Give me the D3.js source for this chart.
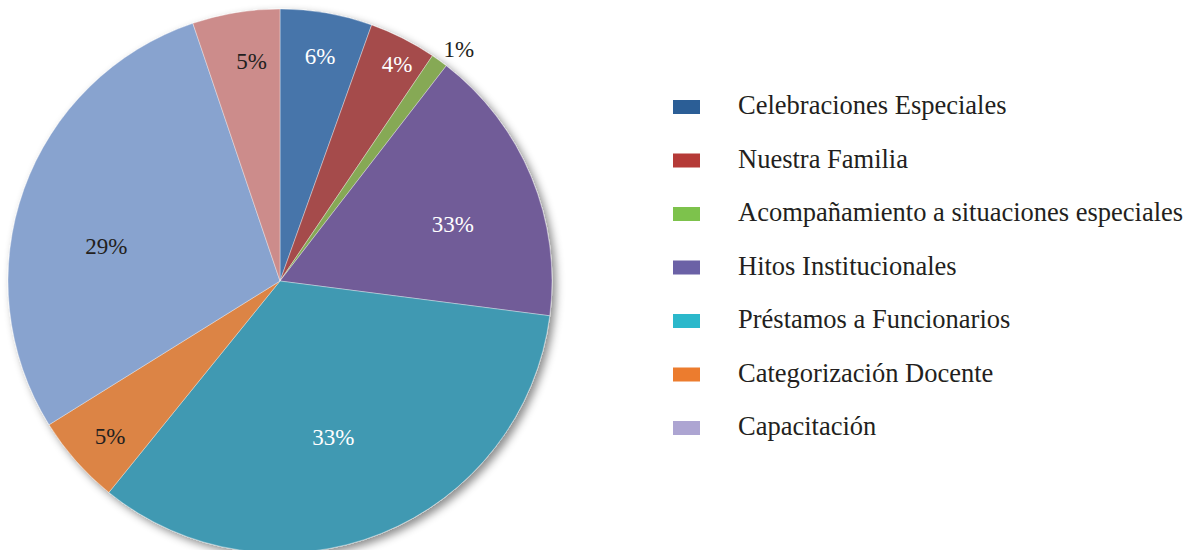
<!DOCTYPE html>
<html>
<head>
<meta charset="utf-8">
<script src="https://cdn.jsdelivr.net/npm/d3@7"></script>
<style>
  html, body { margin: 0; padding: 0; background: #fff; }
  svg { display: block; }
</style>
</head>
<body>
<div id="chart"></div>
<script>
// datos del gráfico
const slices = ["Celebraciones Especiales", "Nuestra Familia", "Acompañamiento a situaciones especiales",
  "Hitos Institucionales", "Préstamos a Funcionarios", "Categorización Docente", "Capacitación", "Otros"];
const values = [5.47, 4.0, 1.0, 16.57, 33.79, 5.31, 28.67, 5.19];
const labels = ["6%", "4%", "1%", "33%", "33%", "5%", "29%", "5%"];
const sliceColors = ["#4674aa", "#a54c4b", "#86a955", "#715b98", "#4199b2", "#dc8444", "#88a3cf", "#cc8c8b"];
const labelColors = ["#fff", "#fff", "#231f20", "#fff", "#fff", "#231f20", "#231f20", "#231f20"];

const legendNames = ["Celebraciones Especiales", "Nuestra Familia", "Acompañamiento a situaciones especiales",
  "Hitos Institucionales", "Préstamos a Funcionarios", "Categorización Docente", "Capacitación"];
const legendColors = ["#2b5e96", "#b53a37", "#7dc24c", "#6b61a6", "#2bb8cb", "#ec7c2e", "#ada5d2"];

// posición de etiquetas: radio y pequeño ajuste de ángulo (grados)
const labelRadius = [228, 246, 293, 182, 165, 230, 177, 222];
const labelNudge = [0.3, 1.5, 1.7, 4.3, 3.0, -0.9, -8.5, 2.0];

const FONT = "Liberation Serif";
const width = 1192, height = 550;
const cx = 280, cy = 281, radius = 272;

const svg = d3.select("#chart").append("svg")
  .attr("width", width)
  .attr("height", height);

const defs = svg.append("defs");
const filter = defs.append("filter").attr("id", "shadow")
  .attr("x", "-10%").attr("y", "-10%").attr("width", "125%").attr("height", "125%");
filter.append("feDropShadow")
  .attr("dx", 4).attr("dy", 4).attr("stdDeviation", 4)
  .attr("flood-color", "#000").attr("flood-opacity", 0.45);

const pie = d3.pie().sort(null).value(d => d);
const arcs = pie(values);
const arc = d3.arc().innerRadius(0).outerRadius(radius);

const g = svg.append("g").attr("transform", `translate(${cx},${cy})`);

g.append("g").attr("filter", "url(#shadow)")
  .selectAll("path")
  .data(arcs)
  .enter()
  .append("path")
  .attr("d", arc)
  .attr("fill", (d, i) => sliceColors[i])
  .attr("stroke", "#fff")
  .attr("stroke-opacity", 0.6)
  .attr("stroke-width", 0.6);

const labelPos = (d, i) => {
  const a = (d.startAngle + d.endAngle) / 2 + labelNudge[i] * Math.PI / 180;
  return [Math.sin(a) * labelRadius[i], -Math.cos(a) * labelRadius[i]];
};

g.selectAll(".label")
  .data(arcs)
  .enter()
  .append("text")
  .attr("class", "label")
  .attr("x", (d, i) => labelPos(d, i)[0])
  .attr("y", (d, i) => labelPos(d, i)[1])
  .attr("dy", "0.34em")
  .attr("text-anchor", "middle")
  .attr("font-family", FONT)
  .attr("font-size", 23)
  .attr("fill", (d, i) => labelColors[i])
  .text((d, i) => labels[i]);

// leyenda
const legend = svg.append("g").attr("transform", "translate(673,100)");
const rowH = 53.5;

legend.selectAll("rect")
  .data(legendNames)
  .enter()
  .append("rect")
  .attr("x", 0)
  .attr("y", (d, i) => i * rowH)
  .attr("width", 27)
  .attr("height", 14)
  .attr("fill", (d, i) => legendColors[i]);

legend.selectAll("text")
  .data(legendNames)
  .enter()
  .append("text")
  .attr("x", 65)
  .attr("y", (d, i) => i * rowH + 14)
  .attr("font-family", FONT)
  .attr("font-size", 26.5)
  .attr("fill", "#231f20")
  .text(d => d);
</script>
</body>
</html>
